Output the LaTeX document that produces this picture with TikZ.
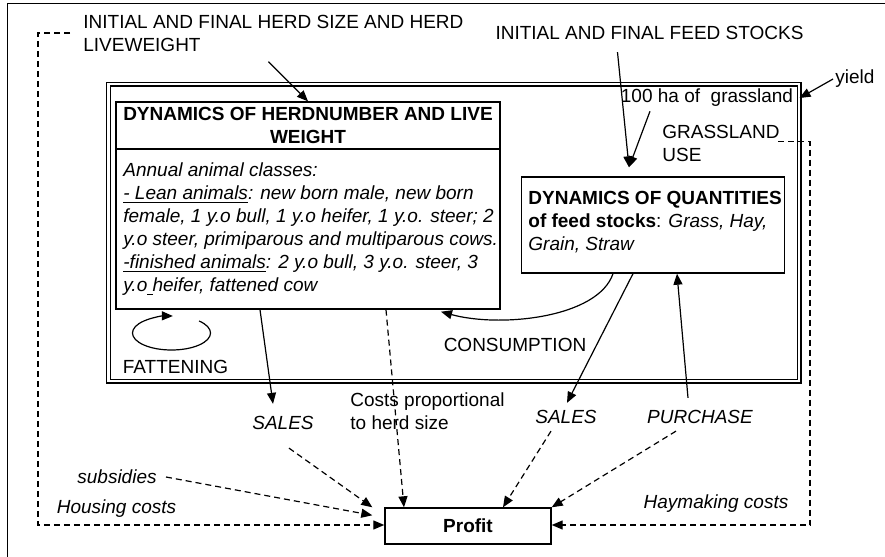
\documentclass[tikz,border=0pt]{standalone}
\usepackage{fontspec}
\setmainfont{Liberation Sans}
\usetikzlibrary{arrows.meta}

\begin{document}
\fontsize{9.5}{11.5}\selectfont
\begin{tikzpicture}[x=0.5pt, y=-0.5pt,
    box/.style={draw, line width=0.7pt, inner sep=0pt},
    lbl/.style={inner sep=1pt},
    arr/.style={line width=0.6pt, -{Triangle[length=5.5pt,width=4.5pt]}},
    darr/.style={arr, dash pattern=on 3pt off 2pt}]
    \useasboundingbox (0,0) rectangle (885,557);

    % Outer frame and grassland frame
    \draw[line width=0.9pt] (885,3.5) -- (7.5,3.5) -- (7.5,557);
    \draw[line width=0.6pt, double, double distance=1.3pt] (108.5,84) rectangle (799,381);

    % Draw nodes
    \node[box, minimum width=192pt, minimum height=103.5pt] (herd) at (308,205.5) {};
    \node[box, minimum width=192pt, minimum height=23.5pt, anchor=north, align=center, font=\bfseries] (herdtitle) at (herd.north) {DYNAMICS OF HERDNUMBER AND LIVE\\WEIGHT};
    \node[lbl, anchor=west, align=left, font=\itshape] (herdtext) at (121,229) {Annual animal classes:\\
        \underline{- Lean animals}: new born male, new born\\
        female, 1 y.o bull, 1 y.o heifer, 1 y.o. steer; 2\\
        y.o steer, primiparous and multiparous cows.\\
        \underline{-finished animals}: 2 y.o bull, 3 y.o. steer, 3\\
        y.o\underline{\ }heifer, fattened cow};
    \node[box, minimum width=131.5pt, minimum height=48pt] (feed) at (653,225) {};
    \node[lbl, anchor=west, align=left] (feedtext) at (526,222.5) {\textbf{DYNAMICS OF QUANTITIES}\\
        \textbf{of feed stocks}: \textit{Grass, Hay,}\\
        \textit{Grain, Straw}};
    \node[box, minimum width=83pt, minimum height=18pt, font=\bfseries] (profit) at (468,526) {Profit};

    % Labels
    \node[lbl, anchor=west, align=left] (herdin) at (81,33) {INITIAL AND FINAL HERD SIZE AND HERD\\LIVEWEIGHT};
    \node[lbl] (feedin) at (649.5,33) {INITIAL AND FINAL FEED STOCKS};
    \node[lbl] (ha) at (707,98) {100 ha of\ \ grassland};
    \node[lbl] (yield) at (855,79) {yield};
    \node[lbl, anchor=west, align=left] (gluse) at (660,143.5) {GRASSLAND\\USE};
    \node[lbl] (fatt) at (175.5,367) {FATTENING};
    \node[lbl] (cons) at (515,345) {CONSUMPTION};
    \node[lbl, anchor=west, align=left] (costs) at (348,411) {Costs proportional\\to herd size};
    \node[lbl, font=\itshape] (hsales) at (283,423) {SALES};
    \node[lbl, font=\itshape] (fsales) at (566,417) {SALES};
    \node[lbl, font=\itshape] (purch) at (700,417) {PURCHASE};
    \node[lbl, font=\itshape] (subs) at (117,477) {subsidies};
    \node[lbl, font=\itshape] (housing) at (116.5,509) {Housing costs};
    \node[lbl, font=\itshape] (hay) at (716,504) {Haymaking costs};

    \coordinate (lcorner) at (38,525);
    \coordinate (rcorner) at (810,525);

    % Draw connections
    \draw[arr] ([xshift=-2.5pt,yshift=-4pt]herdin.south) -- (herd.north);
    \draw[arr] ([xshift=-16pt,yshift=-5pt]feedin.south) -- ([xshift=-12pt,yshift=4.5pt]feed.north);
    \draw[arr] ([xshift=-28.5pt,yshift=-1pt]ha.south) -- ([xshift=-12pt,yshift=4.5pt]feed.north);
    \draw[arr] (yield.west) -- ([xshift=2pt]ha.east);
    \draw[arr] ([xshift=-20pt]feed.south) .. controls (598,318) and (500,328) .. ([xshift=66.5pt,yshift=-1pt]herd.south);
    \draw[arr] ([xshift=-2pt,yshift=17pt]fatt.center) ++(-45:39 and 17) arc[start angle=-45, end angle=272, x radius=39, y radius=17];
    \draw[arr] ([xshift=-24pt]herd.south) -- ([xshift=-5pt,yshift=5pt]hsales.north);
    \draw[arr] ([xshift=-10pt]feed.south) -- ([xshift=0.5pt,yshift=2.5pt]fsales.north);
    \draw[arr] ([xshift=-6pt,yshift=5pt]purch.north) -- ([xshift=12pt]feed.south);

    % Money flows into the profit
    \draw[darr] ([xshift=39pt]herd.south) -- ([xshift=-32pt]profit.north);
    \draw[darr] ([xshift=3pt,yshift=-8pt]hsales.south) -- ([xshift=-6pt]profit.north west);
    \draw[darr] ([xshift=3.5pt]subs.east) -- ([xshift=-6pt,yshift=-4pt]profit.north west);
    \draw[darr] ([xshift=-5.5pt]herdin.west) -| (lcorner) -- (lcorner -| profit.west);
    \draw[darr] ([xshift=-7.5pt,yshift=-2.5pt]fsales.south) -- ([xshift=17.5pt]profit.north);
    \draw[darr] ([xshift=-12pt,yshift=-2.5pt]purch.south) -- (profit.north east);
    \draw[darr] ([xshift=-2pt,yshift=1pt]gluse.east) -| (rcorner) -- (rcorner -| profit.east);
\end{tikzpicture}
\end{document}
